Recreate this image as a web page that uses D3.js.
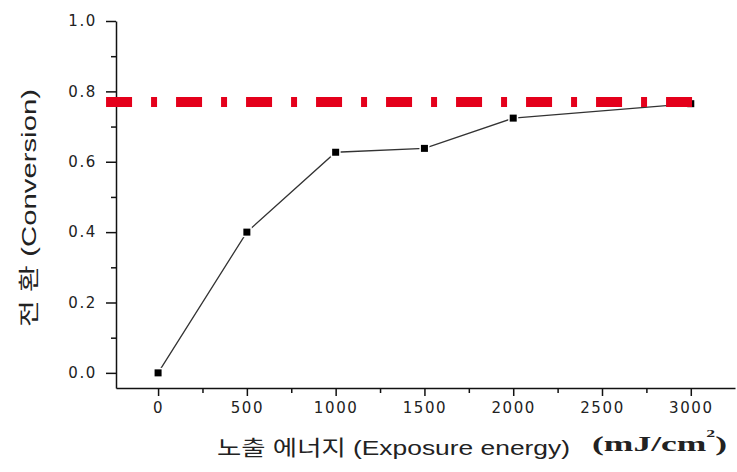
<!DOCTYPE html>
<html>
<head>
<meta charset="utf-8">
<script src="https://cdn.jsdelivr.net/npm/d3@7"></script>
<style>
  body { margin: 0; background: #fff; }
  svg { display: block; }
</style>
</head>
<body>
<div id="chart"></div>
<script>
// data
const energy = [0, 500, 1000, 1500, 2000, 3000];
const conversion = [0.0, 0.40, 0.627, 0.638, 0.724, 0.765];
const refLevel = 0.77;
const refSpan = [-293, 3040];
const xTicks = [0, 500, 1000, 1500, 2000, 2500, 3000];
const xMinor = [250, 750, 1250, 1750, 2250, 2750];
const yTicks = [0.0, 0.2, 0.4, 0.6, 0.8, 1.0];
const yMinor = [0.1, 0.3, 0.5, 0.7, 0.9];

const W = 737, H = 472;
const svg = d3.select("#chart")
  .append("svg")
    .attr("width", W)
    .attr("height", H);

const x = d3.scaleLinear().domain([-237, 3249]).range([116, 735]);
const y = d3.scaleLinear().domain([-0.043, 1.0]).range([388, 21]);

const tickFont = g => g.selectAll("text")
  .attr("font-family", "DejaVu Sans, sans-serif")
  .attr("font-size", 15)
  .attr("letter-spacing", "1.6px")
  .attr("fill", "#222");

// x axis
const xAxis = svg.append("g")
  .attr("transform", `translate(0,${y.range()[0]})`)
  .call(d3.axisBottom(x).tickValues(xTicks).tickFormat(d3.format("d"))
    .tickSize(8).tickSizeOuter(0).tickPadding(6))
  .call(tickFont);
svg.append("g")
  .attr("transform", `translate(0,${y.range()[0]})`)
  .call(d3.axisBottom(x).tickValues(xMinor).tickFormat("").tickSize(5).tickSizeOuter(0))
  .call(g => g.select(".domain").remove());

// y axis
svg.append("g")
  .attr("transform", `translate(${x.range()[0]},0)`)
  .call(d3.axisLeft(y).tickValues(yTicks).tickFormat(d3.format(".1f"))
    .tickSize(10).tickSizeOuter(0).tickPadding(9))
  .call(tickFont);
svg.append("g")
  .attr("transform", `translate(${x.range()[0]},0)`)
  .call(d3.axisLeft(y).tickValues(yMinor).tickFormat("").tickSize(5).tickSizeOuter(0))
  .call(g => g.select(".domain").remove());

svg.selectAll(".domain, .tick line")
  .attr("stroke", "#111")
  .attr("stroke-width", 1.5);

// data line
const pts = energy.map((e, i) => [e, conversion[i]]);
svg.append("path")
  .datum(pts)
  .attr("fill", "none")
  .attr("stroke", "#333")
  .attr("stroke-width", 1.3)
  .attr("d", d3.line().x(d => x(d[0])).y(d => y(d[1])));

svg.selectAll("rect.pt")
  .data(pts)
  .join("rect")
    .attr("class", "pt")
    .attr("x", d => x(d[0]) - 3.5)
    .attr("y", d => y(d[1]) - 3.5)
    .attr("width", 7)
    .attr("height", 7)
    .attr("fill", "#000")
    .attr("stroke", "#fff")
    .attr("stroke-width", 3)
    .attr("paint-order", "stroke");

// red dash-dot reference line
svg.append("line")
  .attr("x1", x(refSpan[0]))
  .attr("x2", x(refSpan[1]))
  .attr("y1", y(refLevel))
  .attr("y2", y(refLevel))
  .attr("stroke", "#e4001b")
  .attr("stroke-width", 10)
  .attr("stroke-dasharray", "26 19 6 19");

// axis titles
svg.append("text")
  .attr("x", 217)
  .attr("y", 455)
  .attr("textLength", 353)
  .attr("lengthAdjust", "spacingAndGlyphs")
  .attr("font-family", "Liberation Sans, Noto Sans CJK KR, sans-serif")
  .attr("font-size", 21)
  .attr("fill", "#222")
  .text("노출 에너지 (Exposure energy)");

const unit = svg.append("text")
  .attr("x", 592)
  .attr("y", 451)
  .attr("font-family", "Liberation Serif, serif")
  .attr("font-weight", "bold")
  .attr("font-size", 22)
  .attr("fill", "#222")
  .attr("textLength", 135)
  .attr("lengthAdjust", "spacingAndGlyphs");
unit.append("tspan").text("(mJ/cm");
unit.append("tspan").attr("dy", -14).attr("font-size", 11).text("2");
unit.append("tspan").attr("dy", 14).text(")");

svg.append("text")
  .attr("transform", "translate(36,208) rotate(-90)")
  .attr("text-anchor", "middle")
  .attr("textLength", 238)
  .attr("lengthAdjust", "spacingAndGlyphs")
  .attr("font-family", "Liberation Sans, Noto Sans CJK KR, sans-serif")
  .attr("font-size", 21)
  .attr("fill", "#222")
  .text("전 환 (Conversion)");
</script>
</body>
</html>
